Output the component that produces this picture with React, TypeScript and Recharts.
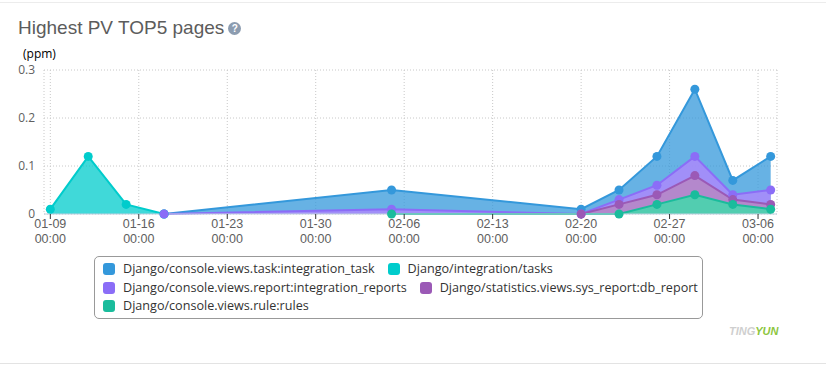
import React from 'react';
import { AreaChart, Area, XAxis, YAxis, CartesianGrid } from 'recharts';

const d = (m: number, day: number) => new Date(2017, m - 1, day).getTime();

const dates = [d(1, 9), d(1, 12), d(1, 15), d(1, 18), d(2, 5), d(2, 20), d(2, 23), d(2, 26), d(3, 1), d(3, 4), d(3, 7)];
const integrationTask = [null, null, null, 0, 0.05, 0.01, 0.05, 0.12, 0.26, 0.07, 0.12];
const integrationTasks = [0.01, 0.12, 0.02, 0, null, null, null, null, null, null, null];
const integrationReports = [null, null, null, 0, 0.01, 0, 0.03, 0.06, 0.12, 0.04, 0.05];
const dbReport = [null, null, null, null, null, 0, 0.02, 0.04, 0.08, 0.03, 0.02];
const rules = [null, null, null, null, 0, null, 0, 0.02, 0.04, 0.02, 0.01];

const xTicks = [d(1, 9), d(1, 16), d(1, 23), d(1, 30), d(2, 6), d(2, 13), d(2, 20), d(2, 27), d(3, 6)];
const yTicks = [0, 0.1, 0.2, 0.3];

const series = [
  { key: 'task', name: 'Django/console.views.task:integration_task', color: '#3498DB', fill: '#3498DB', op: 0.75, values: integrationTask },
  { key: 'tasks', name: 'Django/integration/tasks', color: '#00CCCC', fill: '#00CCCC', op: 0.75, values: integrationTasks },
  { key: 'reports', name: 'Django/console.views.report:integration_reports', color: '#8B6DF7', fill: '#A78BFA', op: 0.9, values: integrationReports },
  { key: 'db', name: 'Django/statistics.views.sys_report:db_report', color: '#9B59B6', fill: '#B687C7', op: 0.9, values: dbReport },
  { key: 'rules', name: 'Django/console.views.rule:rules', color: '#1ABC9C', fill: '#47D5AD', op: 0.9, values: rules },
];

const data = dates.map((t, i) => {
  const row: Record<string, number | null> = { t };
  series.forEach((s) => { row[s.key] = s.values[i]; });
  return row;
});

const legendRows = [[0, 1], [2, 3], [4]];

const HALF_DAY = 12 * 3600 * 1000;
const FONT = '"Liberation Sans", Arial, sans-serif';
const FONT2 = '"Open Sans", "Liberation Sans", Arial, sans-serif';

const pad = (n: number) => (n < 10 ? '0' + n : '' + n);

const XTick = (props: any) => {
  const { x, y, payload } = props;
  const dt = new Date(payload.value);
  return (
    <g>
      <text x={x} y={y + 7} textAnchor="middle" fill="#606060" fontSize={12.5} fontFamily={FONT}>
        {pad(dt.getMonth() + 1) + '-' + pad(dt.getDate())}
      </text>
      <text x={x} y={y + 21.5} textAnchor="middle" fill="#606060" fontSize={12.5} fontFamily={FONT}>
        {pad(dt.getHours()) + ':' + pad(dt.getMinutes())}
      </text>
    </g>
  );
};

export default function App() {
  return (
    <div style={{ position: 'absolute', left: 0, top: 0, width: 826, height: 370, background: '#fff', fontFamily: FONT }}>
      <div style={{ position: 'absolute', left: 0, top: 2, width: 826, height: 360, borderTop: '1px solid #ececec', borderBottom: '1px solid #e3e3e3' }} />
      <div style={{ position: 'absolute', left: 18, top: 17, fontSize: 19, color: '#5c5c5c', whiteSpace: 'nowrap' }}>
        Highest PV TOP5 pages
        <span style={{ display: 'inline-block', width: 13, height: 13, borderRadius: 7, background: '#8c9cb0', color: '#fff', fontSize: 10, fontWeight: 'bold', textAlign: 'center', lineHeight: '13px', marginLeft: 4, verticalAlign: 2 }}>?</span>
      </div>
      <div style={{ position: 'absolute', left: 23, top: 45, fontSize: 12, color: '#000', fontFamily: FONT2 }}>(ppm)</div>
      <div style={{ position: 'absolute', left: 0, top: 0 }}>
        <AreaChart width={826} height={250} data={data} margin={{ top: 70, right: 49, left: 4, bottom: 6 }}>
          <CartesianGrid stroke="#c8c8c8" strokeDasharray="1 2" vertical horizontal />
          <XAxis
            dataKey="t"
            type="number"
            scale="time"
            domain={[d(1, 9) - HALF_DAY, d(3, 7) + HALF_DAY]}
            ticks={xTicks}
            interval={0}
            height={30}
            axisLine={{ stroke: '#C0D0E0' }}
            tickLine={{ stroke: '#333' }}
            tickSize={5}
            tickMargin={2}
            tick={<XTick />}
          />
          <YAxis
            type="number"
            domain={[0, 0.3]}
            ticks={yTicks}
            width={40}
            axisLine={false}
            tickLine={false}
            tickSize={0}
            tickMargin={9}
            tick={{ fill: '#606060', fontSize: 12, fontFamily: FONT2 }}
            tickFormatter={(v: number) => String(v)}
          />
          {series.map((s) => (
            <Area
              key={s.key}
              dataKey={s.key}
              name={s.name}
              type="linear"
              stroke={s.color}
              strokeWidth={2}
              fill={s.fill}
              fillOpacity={s.op}
              connectNulls
              dot={{ r: 4.5, fill: s.color, stroke: s.color, strokeWidth: 0, fillOpacity: 1 }}
              activeDot={false}
              isAnimationActive={false}
            />
          ))}
        </AreaChart>
      </div>
      <div style={{ position: 'absolute', left: 94, top: 256, width: 607, height: 61, border: '1px solid #999', borderRadius: 5, boxSizing: 'content-box' }}>
        {legendRows.map((row, ri) => (
          <div key={ri} style={{ position: 'absolute', left: 8, top: 5 + ri * 18.5, whiteSpace: 'nowrap', display: 'flex' }}>
            {row.map((idx) => (
              <div key={idx} style={{ display: 'flex', alignItems: 'center', marginRight: 13, fontSize: 12.6, color: '#333', lineHeight: '14px', fontFamily: FONT2 }}>
                <span style={{ display: 'inline-block', width: 12, height: 12, borderRadius: 3, background: series[idx].color, marginRight: 8 }} />
                {series[idx].name}
              </div>
            ))}
          </div>
        ))}
      </div>
      <div style={{ position: 'absolute', left: 729, top: 325, fontSize: 11, fontWeight: 'bold', fontStyle: 'italic', letterSpacing: 0 }}>
        <span style={{ color: '#cfcfcf' }}>TING</span><span style={{ color: '#8cc63f' }}>YUN</span>
      </div>
    </div>
  );
}
